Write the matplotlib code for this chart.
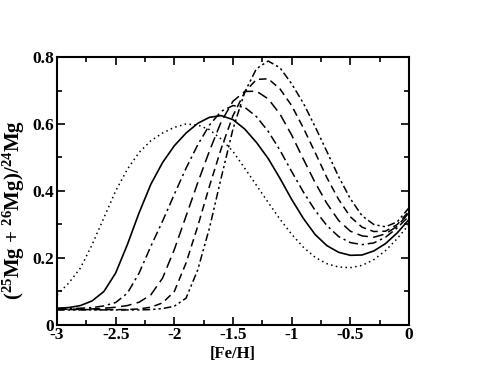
import matplotlib
matplotlib.use("Agg")
import matplotlib.pyplot as plt
from matplotlib.ticker import MultipleLocator

plt.rcParams['font.family'] = 'Liberation Serif'
plt.rcParams['font.weight'] = 'bold'
plt.rcParams['mathtext.default'] = 'regular'
plt.rcParams['axes.unicode_minus'] = False

# [Fe/H] grid
feh = [-3.0, -2.9, -2.8, -2.7, -2.6, -2.5, -2.4, -2.3, -2.2, -2.1, -2.0,
       -1.9, -1.8, -1.7, -1.6, -1.5, -1.4, -1.3, -1.2, -1.1, -1.0,
       -0.9, -0.8, -0.7, -0.6, -0.5, -0.4, -0.3, -0.2, -0.1, 0.0]

# (25Mg+26Mg)/24Mg for the six models
mg_dotted = [0.09, 0.125, 0.17, 0.24, 0.32, 0.40, 0.465, 0.515, 0.55, 0.573, 0.59,
             0.60, 0.597, 0.583, 0.555, 0.518, 0.468, 0.417, 0.366, 0.316, 0.271,
             0.232, 0.202, 0.183, 0.173, 0.171, 0.178, 0.195, 0.222, 0.258, 0.30]
mg_solid = [0.05, 0.052, 0.058, 0.072, 0.1, 0.155, 0.24, 0.335, 0.42, 0.485, 0.535,
            0.573, 0.602, 0.62, 0.625, 0.613, 0.585, 0.545, 0.497, 0.438, 0.375,
            0.318, 0.27, 0.237, 0.217, 0.208, 0.209, 0.221, 0.243, 0.275, 0.315]
mg_dashdot = [0.049, 0.049, 0.05, 0.052, 0.057, 0.067, 0.095, 0.155, 0.235, 0.31, 0.39,
              0.468, 0.538, 0.597, 0.638, 0.655, 0.65, 0.622, 0.578, 0.522, 0.458,
              0.397, 0.342, 0.297, 0.264, 0.246, 0.24, 0.245, 0.262, 0.29, 0.325]
mg_longdash = [0.047, 0.047, 0.047, 0.048, 0.05, 0.053, 0.058, 0.068, 0.09, 0.14, 0.225,
               0.325, 0.425, 0.52, 0.607, 0.668, 0.697, 0.698, 0.675, 0.63, 0.567,
               0.495, 0.425, 0.363, 0.312, 0.28, 0.266, 0.262, 0.272, 0.295, 0.335]
mg_dashed = [0.046, 0.046, 0.046, 0.046, 0.046, 0.046, 0.046, 0.048, 0.053, 0.066, 0.10,
             0.185, 0.295, 0.415, 0.527, 0.625, 0.695, 0.733, 0.735, 0.705, 0.655,
             0.588, 0.515, 0.44, 0.375, 0.323, 0.292, 0.279, 0.28, 0.30, 0.34]
mg_dashdotdot = [0.045, 0.045, 0.045, 0.045, 0.045, 0.045, 0.045, 0.045, 0.046, 0.049, 0.056,
                 0.08, 0.165, 0.29, 0.44, 0.585, 0.695, 0.765, 0.788, 0.768, 0.72,
                 0.662, 0.592, 0.518, 0.443, 0.377, 0.326, 0.3, 0.293, 0.308, 0.35]

fig = plt.figure(figsize=(4.91, 3.79), dpi=100)
ax = fig.add_axes([0.116, 0.1425, 0.717, 0.7071])

ax.plot(feh, mg_dotted, color='black', lw=1.1, linestyle=(0, (1, 2.2)))
ax.plot(feh, mg_solid, color='black', lw=1.2, linestyle='-')
ax.plot(feh, mg_dashdot, color='black', lw=1.1, linestyle=(0, (6, 2.5, 1.5, 2.5)))
ax.plot(feh, mg_longdash, color='black', lw=1.1, linestyle=(0, (7, 3.5)))
ax.plot(feh, mg_dashed, color='black', lw=1.1, linestyle=(0, (5, 3)))
ax.plot(feh, mg_dashdotdot, color='black', lw=1.1, linestyle=(0, (5, 2, 1.5, 2, 1.5, 2)))

ax.set_xlim(-3, 0)
ax.set_ylim(0, 0.8)
ax.xaxis.set_minor_locator(MultipleLocator(0.25))
ax.yaxis.set_minor_locator(MultipleLocator(0.1))
ax.set_xticks([-3, -2.5, -2, -1.5, -1, -0.5, 0])
ax.set_xticklabels(['-3', '-2.5', '-2', '-1.5', '-1', '-0.5', '0'])
ax.set_yticks([0, 0.2, 0.4, 0.6, 0.8])
ax.set_yticklabels(['0', '0.2', '0.4', '0.6', '0.8'])

ax.tick_params(which='both', direction='in', top=True, right=True, labelsize=12.5, width=1.2)
ax.tick_params(which='major', length=6)
ax.tick_params(axis='x', which='major', pad=1.5)
ax.tick_params(axis='y', which='major', pad=2)
ax.tick_params(which='minor', length=3.5)
for s in ax.spines.values():
    s.set_linewidth(1.5)

ax.set_xlabel('[Fe/H]', fontsize=12, fontweight='bold', labelpad=2)
ax.set_ylabel(r'($^{25}$Mg + $^{26}$Mg)/$^{24}$Mg', fontsize=15, fontweight='bold')
ax.yaxis.set_label_coords(-0.085, 0.43)

fig.savefig('out.png', dpi=100)
